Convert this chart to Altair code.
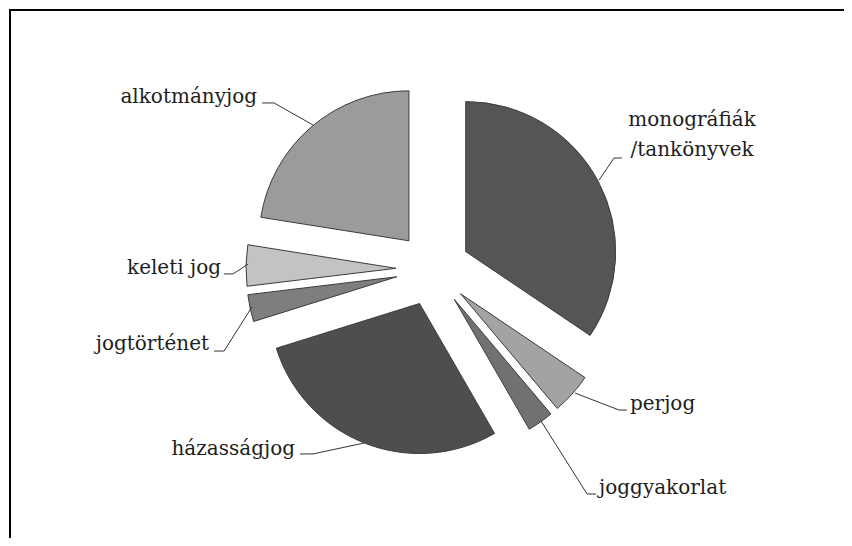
import math
import altair as alt
import pandas as pd

# ---- data ----
categories = ["monográfiák /tankönyvek", "perjog", "joggyakorlat", "házasságjog",
              "jogtörténet", "keleti jog", "alkotmányjog"]
display = ["monográfiák\n/tankönyvek", "perjog", "joggyakorlat", "házasságjog",
           "jogtörténet", "keleti jog", "alkotmányjog"]
values = [34.3, 4.4, 2.8, 28.4, 2.9, 4.4, 22.4]

# ---- style / layout ----
greys = ["#555555", "#a3a3a3", "#717171", "#4e4e4e", "#7e7e7e", "#c3c3c3", "#9b9b9b"]
W, H = 836, 530
CX_PX, CY_PX, UNIT = 424, 260, 150      # pie centre and radius (px)
EXPLODE = 0.247                          # slice offset in radius units
FONT = "DejaVu Serif"

# label anchors (radius units, relative to pie centre) and alignment
label_x = [1.727, 1.313, 1.107, -0.92, -1.493, -1.413, -1.173]
label_y = [0.953, -0.94, -1.5, -1.24, -0.54, -0.033, 1.107]
label_align = ["center", "left", "left", "right", "right", "right", "right"]
# leader lines: three points each (slice edge, elbow, label end)
leader_x = [[1.107, 1.207, 1.26], [0.947, 1.24, 1.293], [0.72, 1.027, 1.087],
            [-0.46, -0.8, -0.887], [-1.207, -1.393, -1.46], [-1.233, -1.333, -1.393],
            [-0.8, -1.06, -1.14]]
leader_y = [[0.593, 0.74, 0.74], [-0.827, -0.94, -0.94], [-1.013, -1.5, -1.5],
            [-1.16, -1.233, -1.233], [-0.253, -0.547, -0.547], [0.033, -0.033, -0.033],
            [0.96, 1.107, 1.107]]

total = sum(values)
rows = []
acc = 0.0
for c, v in zip(categories, values):
    t0 = acc / total
    acc += v
    t1 = acc / total
    mid = (t0 + t1) * math.pi
    rows.append({"cat": c, "value": v, "t0": t0, "t1": t1,
                 "cx": EXPLODE * math.sin(mid), "cy": EXPLODE * math.cos(mid)})
pie_df = pd.DataFrame(rows)

lab_df = pd.DataFrame({"cat": categories, "text": display, "x": label_x,
                       "y": label_y, "align": label_align})
lead_rows = []
for c, xs, ys in zip(categories, leader_x, leader_y):
    for i, (a, b) in enumerate(zip(xs, ys)):
        lead_rows.append({"cat": c, "i": i, "x": a, "y": b})
lead_df = pd.DataFrame(lead_rows)

xscale = alt.Scale(domain=[-CX_PX / UNIT, (W - CX_PX) / UNIT], range=[0, W], nice=False, zero=False)
yscale = alt.Scale(domain=[-(H - CY_PX) / UNIT, CY_PX / UNIT], range=[H, 0], nice=False, zero=False)

pie = alt.Chart(pie_df).mark_arc(outerRadius=UNIT, stroke="#3c3c3c", strokeWidth=1).encode(
    x=alt.X("cx:Q", scale=xscale, axis=None),
    y=alt.Y("cy:Q", scale=yscale, axis=None),
    theta=alt.Theta("t0:Q", scale=alt.Scale(domain=[0, 1], range=[0, 2 * math.pi]), stack=None),
    theta2=alt.Theta2("t1:Q"),
    color=alt.Color("cat:N", scale=alt.Scale(domain=categories, range=greys), legend=None),
)

leaders = alt.Chart(lead_df).mark_line(color="#333333", strokeWidth=1).encode(
    x=alt.X("x:Q", scale=xscale, axis=None),
    y=alt.Y("y:Q", scale=yscale, axis=None),
    detail="cat:N",
    order="i:Q",
)

def text_layer(al):
    return alt.Chart(lab_df).transform_filter(alt.datum.align == al).mark_text(
        font=FONT, fontSize=20, align=al, baseline="alphabetic", lineBreak="\n",
        lineHeight=30, color="#1e1e1e"
    ).encode(
        x=alt.X("x:Q", scale=xscale, axis=None),
        y=alt.Y("y:Q", scale=yscale, axis=None),
        text="text:N",
    )

top_border = alt.Chart(pie_df).mark_rule(color="black", strokeWidth=2).encode(
    x=alt.value(0), x2=alt.value(W), y=alt.value(1)
)
left_border = alt.Chart(pie_df).mark_rule(color="black", strokeWidth=2).encode(
    x=alt.value(1), y=alt.value(0), y2=alt.value(H)
)

chart = alt.layer(
    pie, leaders, text_layer("left"), text_layer("right"), text_layer("center"),
    top_border, left_border
).properties(
    width=W, height=H, padding=0,
    autosize=alt.AutoSizeParams(type="fit", contains="padding"),
    background="white",
).configure_view(stroke=None)

chart.save("out.html", embed_options={"renderer": "svg", "actions": False})
